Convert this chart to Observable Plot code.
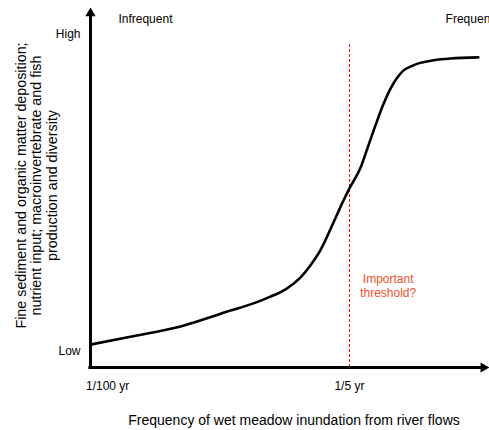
<!DOCTYPE html>
<html>
<head>
<meta charset="utf-8">
<script src="https://cdn.jsdelivr.net/npm/d3@7"></script>
<script src="https://cdn.jsdelivr.net/npm/@observablehq/plot@0.6"></script>
<style>
  html, body { margin: 0; padding: 0; background: #fff; }
  #chart svg { display: block; }
</style>
</head>
<body>
<div id="chart"></div>
<script>
// Conceptual response curve (x: inundation frequency, 0–100 relative scale; y: response, 0–100)
const curveX = [0.25, 10.0, 22.6, 35.1, 40.1, 45.1, 48.9, 52.6, 55.1, 57.6, 60.9, 63.4, 64.9, 67.7, 69.4, 71.4, 73.4, 75.2, 76.9, 78.4, 80.2, 82.0, 86.0, 90.2, 97.2];
const curveY = [6.3, 8.4, 11.2, 15.5, 17.2, 19.3, 21.3, 24.5, 27.8, 31.9, 39.5, 45.5, 48.8, 54.5, 59.7, 65.9, 71.7, 76.0, 79.0, 80.9, 82.0, 82.8, 83.7, 84.2, 84.5];

const xTickValues = [4.3, 64.9];
const xTickLabels = ["1/100 yr", "1/5 yr"];
const yTickValues = [4.4, 90.7];
const yTickLabels = ["Low", "High"];

const thresholdX = 64.9;
const thresholdTop = 88.3;
const thresholdLabel = "Important\nthreshold?";
const thresholdLabelPos = [74.6, 22.3];

const topLabels = ["Infrequent", "Frequen"];
const topLabelX = [7.0, 89.0];
const topLabelY = 94.8;

const xTitle = "Frequency of wet meadow inundation from river flows";
const yTitle = "Fine sediment and organic matter deposition;\nnutrient input; macroinvertebrate and fish\nproduction and diversity";

const curve = curveX.map((x, i) => ({x, y: curveY[i]}));
const topData = topLabels.map((t, i) => ({t, x: topLabelX[i], y: topLabelY}));
const xLab = new Map(xTickValues.map((v, i) => [v, xTickLabels[i]]));
const yLab = new Map(yTickValues.map((v, i) => [v, yTickLabels[i]]));

const font = "Liberation Sans, Arial, Helvetica, sans-serif";

const chart = Plot.plot({
  width: 489,
  height: 430,
  marginLeft: 90,
  marginRight: 0,
  marginTop: 0,
  marginBottom: 63,
  style: {fontFamily: font, background: "#fff", color: "#000"},
  x: {domain: [0, 100]},
  y: {domain: [0, 100]},
  marks: [
    Plot.axisX({ticks: xTickValues, tickFormat: d => xLab.get(d), tickSize: 0, tickPadding: 14, fontSize: 12, label: null}),
    Plot.axisY({ticks: yTickValues, tickFormat: d => yLab.get(d), tickSize: 0, tickPadding: 10, fontSize: 12, label: null}),
    Plot.ruleX([thresholdX], {y1: 0, y2: thresholdTop, stroke: "#ff0000", strokeWidth: 1, strokeDasharray: "3,2"}),
    Plot.line(curve, {x: "x", y: "y", curve: "monotone-x", stroke: "#000", strokeWidth: 2.6}),
    Plot.ruleX([0], {y1: -0.4, y2: 96, stroke: "#000", strokeWidth: 3}),
    Plot.ruleY([0], {x1: -0.4, x2: 98, stroke: "#000", strokeWidth: 3}),
    Plot.dot([{x: 0, y: 96.5}], {x: "x", y: "y", symbol: "triangle", r: 3.8, fill: "#000", stroke: "none"}),
    Plot.dot([{x: 98.5, y: 0}], {x: "x", y: "y", symbol: "triangle", r: 3.8, fill: "#000", stroke: "none", rotate: 90}),
    Plot.text(topData, {x: "x", y: "y", text: "t", textAnchor: "start", fontSize: 12, fill: "#000"}),
    Plot.text([thresholdLabel], {x: () => thresholdLabelPos[0], y: () => thresholdLabelPos[1], text: d => d, fontSize: 12, fill: "#f0502a", lineHeight: 1.15}),
    Plot.text([xTitle], {frameAnchor: "bottom", dx: 4, dy: 57, text: d => d, fontSize: 14, fill: "#000"}),
    Plot.text([yTitle], {frameAnchor: "left", textAnchor: "middle", dx: -54, dy: 1.5, rotate: -90, text: d => d, fontSize: 14.3, lineHeight: 1.08, fill: "#000"})
  ]
});
document.getElementById("chart").appendChild(chart);
</script>
</body>
</html>
